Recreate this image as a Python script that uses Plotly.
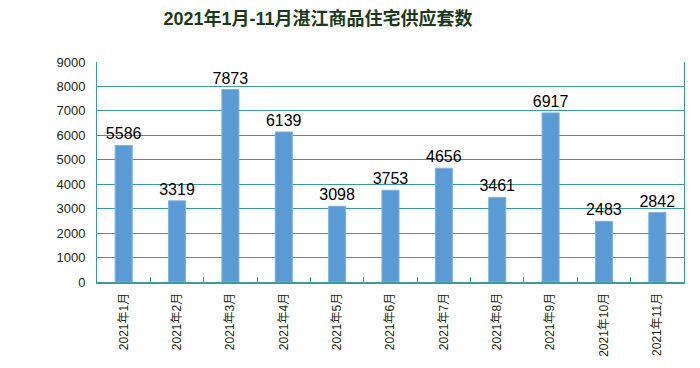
import plotly.graph_objects as go

months = ["2021年1月", "2021年2月", "2021年3月", "2021年4月", "2021年5月", "2021年6月",
          "2021年7月", "2021年8月", "2021年9月", "2021年10月", "2021年11月"]
supply = [5586, 3319, 7873, 6139, 3098, 3753, 4656, 3461, 6917, 2483, 2842]
title_text = "2021年1月-11月湛江商品住宅供应套数"

grid_col = "#3A9C9A"
font_fam = "Liberation Sans, Noto Sans CJK SC, sans-serif"

# The page body has an 8px default margin, so the figure is sized to fit the 700x368 window.
W, H = 692, 360

fig = go.Figure()
fig.add_trace(go.Bar(
    x=months, y=supply,
    marker=dict(color="#5B9BD5", line=dict(color="#7FB2E0", width=1)),
    text=[str(v) for v in supply], textposition="outside", constraintext="none",
    textfont=dict(size=16, color="#000000", family=font_fam),
    cliponaxis=False,
))

fig.update_layout(
    width=W, height=H,
    margin=dict(l=89, r=16, t=54, b=86),
    paper_bgcolor="white", plot_bgcolor="white",
    bargap=0.68,
    showlegend=False,
    title=dict(text="<b>" + title_text + "</b>", x=310 / W, xanchor="center",
               y=1 - 11 / H, yanchor="middle",
               font=dict(size=18, color="#1B3A1B", family=font_fam)),
    font=dict(family=font_fam),
)
fig.update_yaxes(
    range=[0, 9000], dtick=1000, showgrid=True, gridcolor=grid_col, gridwidth=1,
    showline=True, linecolor=grid_col, linewidth=1, mirror=True,
    zeroline=False, ticks="", ticklabelstandoff=8, automargin=False,
    tickfont=dict(size=13, color="#1E2A10", family=font_fam),
)
fig.update_xaxes(
    showline=True, linecolor=grid_col, linewidth=2, mirror=False,
    ticks="inside", tickson="boundaries", ticklen=5, tickcolor=grid_col,
    tickangle=-90, automargin=False, ticklabelstandoff=4,
    tickfont=dict(size=12, color="#1E2A10", family=font_fam),
)
fig.write_html("out.html")
